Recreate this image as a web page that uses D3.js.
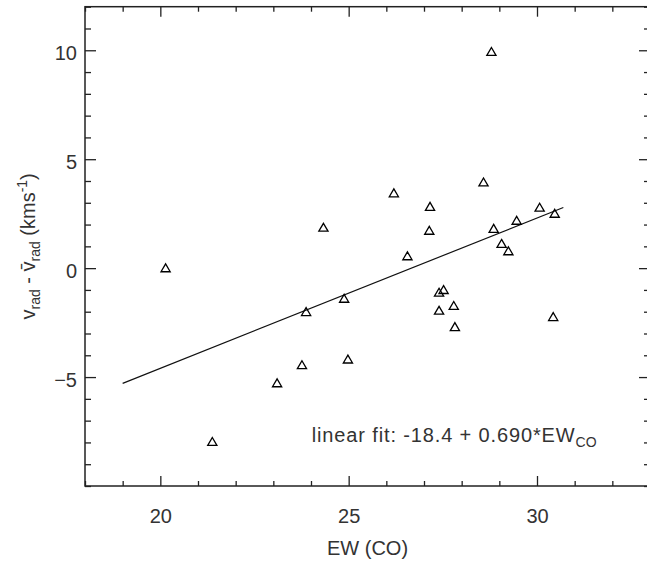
<!DOCTYPE html>
<html lang="en">
<head>
<meta charset="UTF-8">
<title>EW(CO) vs radial velocity</title>
<script src="https://d3js.org/d3.v7.min.js"></script>
<style>
  body { margin: 0; background: #fff; }
  svg { display: block; font-family: "Liberation Sans", Arial, Helvetica, sans-serif; }
  text { fill: #333; }
</style>
</head>
<body>
<svg id="svg" width="647" height="561"></svg>
<script>
// data
const ewCO = [20.14, 21.38, 23.10, 24.33, 24.88, 23.87, 24.98, 23.76, 26.20, 28.58,
              27.16, 27.14, 26.56, 30.07, 30.47, 29.46, 28.85, 29.06, 29.24, 27.52,
              27.40, 27.79, 27.40, 27.82, 30.43, 28.79];
const dvRad = [0.00, -7.97, -5.28, 1.86, -1.40, -2.01, -4.19, -4.45, 3.44, 3.94,
               2.82, 1.72, 0.55, 2.78, 2.50, 2.18, 1.81, 1.12, 0.78, -1.00,
               -1.12, -1.73, -1.95, -2.70, -2.24, 9.93];
const fitA = -18.4, fitB = 0.690;
const fitRange = [19.0, 30.7];
const xMajor = [20, 25, 30];
const yMajor = [-5, 0, 5, 10];

const pL = 85, pR = 650, pT = 6.7, pB = 486;
const svg = d3.select("#svg");

const x = d3.scaleLinear().domain([18, 33]).range([pL, pR]);
const y = d3.scaleLinear().domain([-10, 12]).range([pB, pT]);

const xMinor = d3.range(18, 34, 1).filter(v => !xMajor.includes(v));
const yMinor = d3.range(-10, 13, 1).filter(v => !yMajor.includes(v));

function styleAxis(g) {
  g.select(".domain").remove();
  g.selectAll(".tick line").attr("stroke", "#222").attr("stroke-width", 1.3);
  g.selectAll(".tick text").attr("font-size", 20).attr("fill", "#333");
}

// bottom
svg.append("g").attr("transform", `translate(0,${pB})`)
  .call(d3.axisBottom(x).tickValues(xMajor).tickSizeInner(-10).tickSizeOuter(0).tickPadding(23).tickFormat(d3.format("d")))
  .call(styleAxis);
svg.append("g").attr("transform", `translate(0,${pB})`)
  .call(d3.axisBottom(x).tickValues(xMinor).tickSizeInner(-5).tickSizeOuter(0).tickFormat(""))
  .call(styleAxis);
// top
svg.append("g").attr("transform", `translate(0,${pT})`)
  .call(d3.axisTop(x).tickValues(xMajor).tickSizeInner(-10).tickSizeOuter(0).tickFormat(""))
  .call(styleAxis);
svg.append("g").attr("transform", `translate(0,${pT})`)
  .call(d3.axisTop(x).tickValues(xMinor).tickSizeInner(-5).tickSizeOuter(0).tickFormat(""))
  .call(styleAxis);
// left
svg.append("g").attr("transform", `translate(${pL},0)`)
  .call(d3.axisLeft(y).tickValues(yMajor).tickSizeInner(-11).tickSizeOuter(0).tickPadding(8).tickFormat(d3.format("d")))
  .call(styleAxis)
  .call(g => g.selectAll(".tick text").attr("dy", "0.47em"));
svg.append("g").attr("transform", `translate(${pL},0)`)
  .call(d3.axisLeft(y).tickValues(yMinor).tickSizeInner(-6).tickSizeOuter(0).tickFormat(""))
  .call(styleAxis);
// right
svg.append("g").attr("transform", `translate(${pR},0)`)
  .call(d3.axisRight(y).tickValues(yMajor).tickSizeInner(-11).tickSizeOuter(0).tickFormat(""))
  .call(styleAxis);
svg.append("g").attr("transform", `translate(${pR},0)`)
  .call(d3.axisRight(y).tickValues(yMinor).tickSizeInner(-6).tickSizeOuter(0).tickFormat(""))
  .call(styleAxis);

// frame
svg.append("rect")
  .attr("x", pL).attr("y", pT)
  .attr("width", pR - pL).attr("height", pB - pT)
  .attr("fill", "none").attr("stroke", "#222").attr("stroke-width", 1.5);

// fit line
const line = d3.line().x(d => x(d)).y(d => y(fitA + fitB * d));
svg.append("path")
  .attr("d", line(fitRange))
  .attr("fill", "none").attr("stroke", "#111").attr("stroke-width", 1.2);

// triangles
const tri = "M0,-4.3L4.6,3.6L-4.6,3.6Z";
svg.append("g").selectAll("path")
  .data(ewCO.map((d, i) => [d, dvRad[i]]))
  .join("path")
  .attr("d", tri)
  .attr("transform", d => `translate(${x(d[0])},${y(d[1])})`)
  .attr("fill", "none").attr("stroke", "#000").attr("stroke-width", 1.3);

// fit annotation (IDL spacing is a bit wider than Liberation)
const ann = svg.append("text").attr("x", 311.7).attr("y", 442).attr("font-size", 20);
ann.append("tspan").attr("textLength", 263).attr("lengthAdjust", "spacing")
  .text("linear fit: -18.4 + 0.690*EW");
ann.append("tspan").attr("font-size", 14).attr("dy", 5).text("CO");

// x title
svg.append("text")
  .attr("x", (pL + pR) / 2).attr("y", 555)
  .attr("text-anchor", "middle").attr("font-size", 20)
  .text("EW (CO)");

// y title
const yt = svg.append("text")
  .attr("transform", `translate(35,${(pT + pB) / 2}) rotate(-90)`)
  .attr("text-anchor", "middle").attr("font-size", 20);
yt.append("tspan").text("v");
yt.append("tspan").attr("font-size", 14).attr("dy", 5).text("rad");
yt.append("tspan").attr("dy", -5).text(" - v\u0304");
yt.append("tspan").attr("font-size", 14).attr("dy", 5).text("rad");
yt.append("tspan").attr("dy", -5).text(" (kms");
yt.append("tspan").attr("font-size", 14).attr("dy", -8).text("-1");
yt.append("tspan").attr("dy", 8).text(")");
</script>
</body>
</html>
